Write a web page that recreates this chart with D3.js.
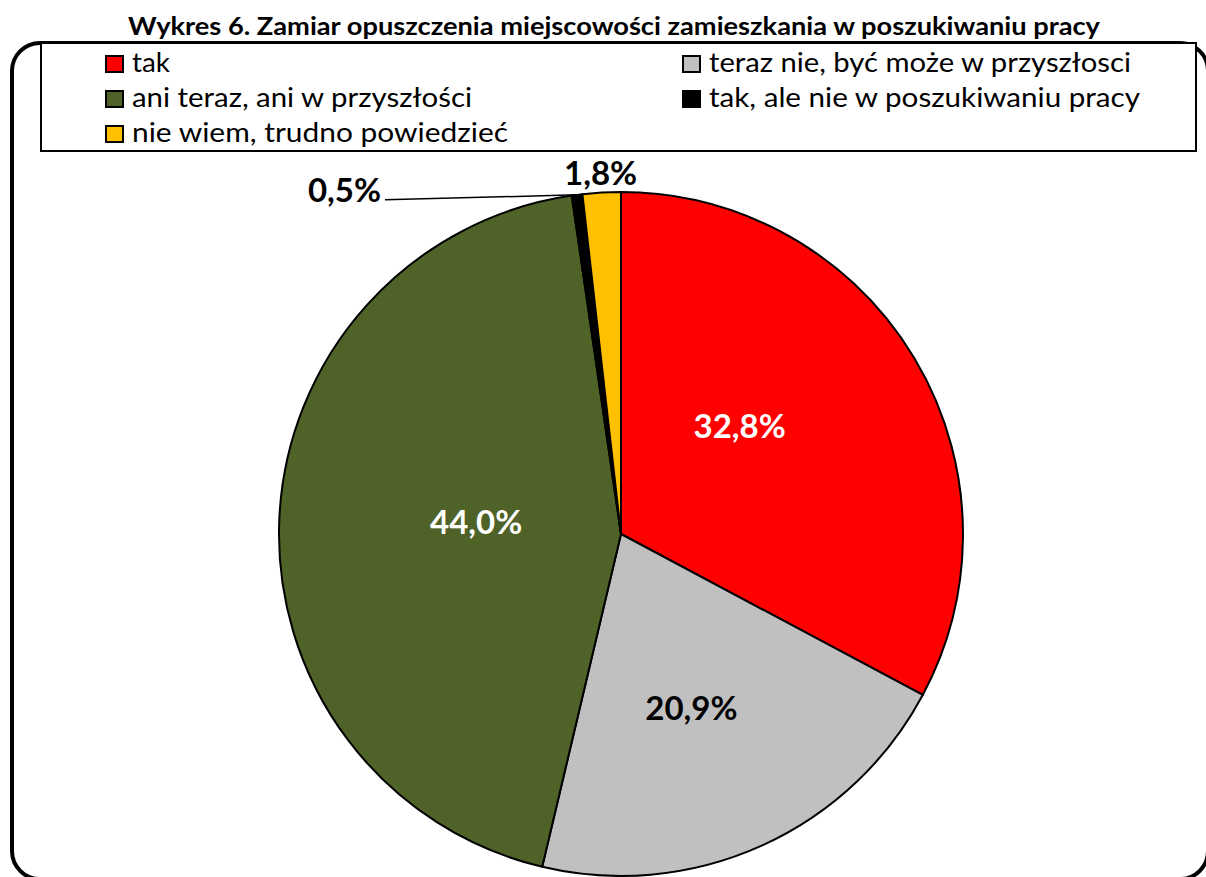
<!DOCTYPE html>
<html lang="pl">
<head>
  <title>Wykres 6</title>
  <meta charset="UTF-8">
  <style>
    body { margin: 0; background: #fff; font-family: Lato, "Liberation Sans", sans-serif; }
  </style>
  <script src="https://cdn.jsdelivr.net/npm/d3@7"></script>
</head>
<body>
  <script>
    var categories = ["tak", "teraz nie, być może w przyszłosci", "ani teraz, ani w przyszłości",
                      "tak, ale nie w poszukiwaniu pracy", "nie wiem, trudno powiedzieć"];
    var values = [32.8, 20.9, 44.0, 0.5, 1.8];
    var valueLabels = ["32,8%", "20,9%", "44,0%", "0,5%", "1,8%"];
    var colors = ["#ff0000", "#c0c0c0", "#4f6228", "#000000", "#ffc000"];
    var labelColors = ["#fff", "#000", "#fff", "#000", "#000"];

    var W = 1206, H = 877;
    var cx = 621, cy = 534, r = 342;
    // Excel's "best fit" shifts the inside labels a little from the centroid
    var labelNudge = [[-28, -20], [0, 18], [26, -4]];

    var svg = d3.select("body").append("svg")
      .attr("width", W)
      .attr("height", H);

    // title
    svg.append("text")
      .attr("x", 614).attr("y", 35)
      .attr("text-anchor", "middle")
      .attr("font-weight", "bold")
      .attr("font-size", 24)
      .attr("textLength", 972)
      .attr("lengthAdjust", "spacingAndGlyphs")
      .text("Wykres 6. Zamiar opuszczenia miejscowości zamieszkania w poszukiwaniu pracy");

    // outer rounded frame
    svg.append("rect")
      .attr("x", 12).attr("y", 43)
      .attr("width", 1196).attr("height", 836)
      .attr("rx", 28)
      .attr("fill", "none")
      .attr("stroke", "#000")
      .attr("stroke-width", 4);

    // legend
    var legend = svg.append("g");
    legend.append("rect")
      .attr("x", 41).attr("y", 43)
      .attr("width", 1155).attr("height", 108)
      .attr("fill", "#fff")
      .attr("stroke", "#000")
      .attr("stroke-width", 2);

    var legendWidths = [38, 422, 340, 431, 376];
    var colX = [105, 682];
    var rowY = [72, 107, 142];

    var items = legend.selectAll("g.item").data(d3.range(categories.length))
      .enter().append("g")
      .attr("class", "item")
      .attr("transform", function(d, i) {
        return "translate(" + colX[i % 2] + "," + rowY[Math.floor(i / 2)] + ")";
      });
    items.append("rect")
      .attr("x", 1).attr("y", -16)
      .attr("width", 17).attr("height", 16)
      .attr("fill", function(d) { return colors[d]; })
      .attr("stroke", "#000")
      .attr("stroke-width", 2);
    items.append("text")
      .attr("x", 27).attr("y", 0)
      .attr("font-size", 27)
      .attr("textLength", function(d) { return legendWidths[d]; })
      .attr("lengthAdjust", "spacingAndGlyphs")
      .text(function(d) { return categories[d]; });

    // pie
    var pie = d3.pie().sort(null).value(function(d) { return d; });
    var arcs = pie(values);
    var arc = d3.arc().innerRadius(0).outerRadius(r);
    var labelArc = d3.arc().innerRadius(r * 0.5).outerRadius(r * 0.5);

    var g = svg.append("g").attr("transform", "translate(" + cx + "," + cy + ")");

    g.selectAll("path").data(arcs)
      .enter().append("path")
      .attr("d", arc)
      .attr("fill", function(d, i) { return colors[i]; })
      .attr("stroke", "#000")
      .attr("stroke-width", 2)
      .attr("stroke-linejoin", "round");

    function midAngle(d) { return (d.startAngle + d.endAngle) / 2; }

    // big slices: inside labels
    arcs.forEach(function(d, i) {
      if (values[i] < 5) return;
      var c = labelArc.centroid(d);
      g.append("text")
        .attr("x", c[0] + labelNudge[i][0]).attr("y", c[1] + labelNudge[i][1] + 12)
        .attr("text-anchor", "middle")
        .attr("font-weight", "bold")
        .attr("font-size", 33)
        .attr("fill", labelColors[i])
        .text(valueLabels[i]);
    });

    // 1,8% just outside the slice
    var yel = arcs[4];
    var a = midAngle(yel);
    g.append("text")
      .attr("x", Math.sin(a) * (r + 20))
      .attr("y", -Math.cos(a) * (r + 20) + 12)
      .attr("text-anchor", "middle")
      .attr("font-weight", "bold")
      .attr("font-size", 33)
      .text(valueLabels[4]);

    // 0,5% moved left with a leader line
    var blk = arcs[3];
    var b = midAngle(blk);
    var px = Math.sin(b) * r, py = -Math.cos(b) * r;
    var lx = -r * 0.69, ly = py + 5;
    g.append("line")
      .attr("x1", lx).attr("y1", ly)
      .attr("x2", px).attr("y2", py)
      .attr("stroke", "#000")
      .attr("stroke-width", 1.5);
    g.append("text")
      .attr("x", lx - 4).attr("y", ly + 2)
      .attr("text-anchor", "end")
      .attr("font-weight", "bold")
      .attr("font-size", 33)
      .text(valueLabels[3]);
  </script>
</body>
</html>
